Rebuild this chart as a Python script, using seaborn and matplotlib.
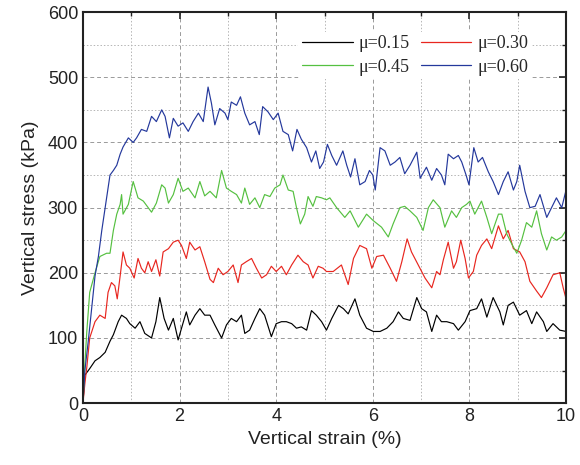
import numpy as np
import pandas as pd
import matplotlib
matplotlib.use("Agg")
import matplotlib.pyplot as plt
import seaborn as sns
from matplotlib.ticker import MultipleLocator

# ---- data ----
labels = ["μ=0.15", "μ=0.30", "μ=0.45", "μ=0.60"]
colors = ["#000000", "#e8261f", "#55c040", "#24389c"]

x015 = [0, 0.04, 0.14, 0.25, 0.35, 0.46, 0.56, 0.63, 0.73, 0.80, 0.90, 0.97, 1.08, 1.18, 1.28,
        1.42, 1.51, 1.59, 1.68, 1.77, 1.87, 1.97, 2.08, 2.14, 2.21, 2.32, 2.42, 2.52, 2.63, 2.73,
        2.87, 2.97, 3.07, 3.18, 3.28, 3.35, 3.45, 3.56, 3.66, 3.76, 3.90, 4.00, 4.11, 4.21, 4.32,
        4.42, 4.52, 4.63, 4.73, 4.83, 4.94, 5.04, 5.15, 5.29, 5.39, 5.49, 5.63, 5.73, 5.87, 6.01,
        6.15, 6.29, 6.42, 6.53, 6.63, 6.77, 6.91, 7.01, 7.11, 7.22, 7.32, 7.42, 7.53, 7.67, 7.77,
        7.91, 8.01, 8.15, 8.25, 8.36, 8.49, 8.63, 8.70, 8.80, 8.91, 9.04, 9.18, 9.29, 9.39, 9.53,
        9.60, 9.73, 9.87, 10.0]
y015 = [0, 43, 53, 65, 70, 78, 95, 105, 125, 135, 130, 122, 115, 125, 107,
        100, 125, 162, 130, 112, 130, 97, 125, 140, 120, 135, 145, 135, 135, 120,
        100, 120, 130, 125, 135, 107, 112, 130, 145, 135, 102, 122, 125, 125, 122,
        115, 117, 112, 142, 135, 125, 112, 130, 150, 145, 137, 160, 135, 115, 110,
        110, 115, 125, 140, 130, 127, 162, 145, 140, 110, 135, 125, 125, 122, 112,
        125, 142, 145, 160, 132, 162, 140, 120, 150, 155, 135, 142, 122, 140, 125,
        110, 122, 112, 110]

x030 = [0, 0.04, 0.08, 0.14, 0.25, 0.35, 0.46, 0.52, 0.59, 0.66, 0.71, 0.77, 0.83, 0.90, 0.97,
        1.06, 1.14, 1.21, 1.28, 1.35, 1.42, 1.51, 1.59, 1.66, 1.77, 1.87, 1.97, 2.04, 2.14, 2.21,
        2.32, 2.42, 2.52, 2.63, 2.70, 2.80, 2.90, 3.00, 3.11, 3.21, 3.28, 3.38, 3.49, 3.59, 3.70,
        3.80, 3.90, 4.00, 4.11, 4.21, 4.32, 4.45, 4.56, 4.66, 4.76, 4.87, 4.97, 5.04, 5.18, 5.35,
        5.49, 5.60, 5.73, 5.87, 5.98, 6.08, 6.22, 6.36, 6.49, 6.60, 6.71, 6.80, 6.94, 7.08, 7.22,
        7.32, 7.39, 7.46, 7.56, 7.67, 7.73, 7.82, 7.91, 7.98, 8.08, 8.15, 8.25, 8.36, 8.46, 8.60,
        8.70, 8.80, 8.91, 9.04, 9.15, 9.25, 9.39, 9.49, 9.60, 9.73, 9.87, 9.94, 10.0]
y030 = [0, 30, 55, 100, 125, 135, 130, 170, 185, 180, 160, 195, 232, 212, 207,
        192, 222, 207, 200, 217, 202, 220, 195, 232, 237, 247, 250, 242, 222, 247,
        235, 240, 217, 190, 185, 207, 197, 202, 212, 185, 212, 217, 222, 207, 192,
        197, 210, 202, 210, 197, 212, 227, 217, 212, 192, 210, 207, 202, 202, 212,
        182, 222, 242, 237, 207, 225, 227, 207, 187, 217, 252, 232, 212, 192, 177,
        202, 197, 220, 247, 207, 217, 250, 222, 192, 202, 227, 242, 252, 237, 272,
        252, 265, 237, 232, 217, 187, 172, 162, 177, 197, 200, 177, 160]

x045 = [0, 0.04, 0.08, 0.14, 0.25, 0.35, 0.49, 0.56, 0.63, 0.70, 0.77, 0.80, 0.83, 0.94, 1.04,
        1.14, 1.25, 1.35, 1.42, 1.52, 1.63, 1.70, 1.77, 1.87, 1.97, 2.07, 2.18, 2.32, 2.42, 2.52,
        2.63, 2.76, 2.87, 2.97, 3.07, 3.18, 3.28, 3.35, 3.45, 3.56, 3.66, 3.76, 3.87, 3.97, 4.08,
        4.14, 4.25, 4.35, 4.42, 4.50, 4.59, 4.66, 4.76, 4.83, 4.94, 5.04, 5.11, 5.25, 5.42, 5.53,
        5.70, 5.87, 6.01, 6.18, 6.32, 6.42, 6.56, 6.66, 6.77, 6.91, 7.04, 7.15, 7.25, 7.39, 7.49,
        7.63, 7.73, 7.84, 7.94, 8.01, 8.11, 8.25, 8.36, 8.46, 8.60, 8.67, 8.77, 8.87, 8.98, 9.08,
        9.18, 9.29, 9.39, 9.49, 9.60, 9.70, 9.80, 9.91, 10.0]
y045 = [0, 60, 110, 170, 200, 225, 230, 230, 265, 290, 305, 320, 290, 305, 340,
        315, 310, 300, 293, 307, 335, 330, 307, 320, 345, 325, 330, 315, 340, 318,
        325, 315, 357, 330, 325, 320, 307, 330, 305, 315, 300, 320, 317, 330, 335,
        350, 327, 325, 300, 275, 290, 317, 302, 317, 315, 312, 315, 300, 285, 295,
        270, 290, 280, 270, 255, 275, 300, 302, 295, 285, 265, 300, 312, 300, 270,
        295, 285, 300, 305, 310, 290, 310, 285, 260, 290, 290, 260, 245, 230, 250,
        277, 270, 295, 260, 235, 255, 250, 255, 265]

x060 = [0, 0.04, 0.11, 0.18, 0.25, 0.32, 0.39, 0.46, 0.56, 0.63, 0.70, 0.77, 0.83, 0.94, 1.04,
        1.11, 1.21, 1.32, 1.42, 1.52, 1.63, 1.70, 1.79, 1.87, 1.97, 2.07, 2.18, 2.28, 2.39, 2.49,
        2.59, 2.66, 2.73, 2.83, 2.94, 3.00, 3.07, 3.18, 3.26, 3.35, 3.45, 3.56, 3.65, 3.72, 3.83,
        3.94, 4.04, 4.14, 4.25, 4.34, 4.43, 4.52, 4.63, 4.73, 4.82, 4.90, 4.98, 5.06, 5.15, 5.25,
        5.38, 5.46, 5.54, 5.63, 5.73, 5.84, 5.93, 6.00, 6.05, 6.15, 6.25, 6.36, 6.46, 6.56, 6.66,
        6.77, 6.91, 6.98, 7.11, 7.22, 7.32, 7.42, 7.49, 7.56, 7.67, 7.77, 7.84, 7.93, 7.99, 8.09,
        8.18, 8.27, 8.39, 8.49, 8.60, 8.70, 8.80, 8.91, 8.98, 9.04, 9.15, 9.25, 9.36, 9.46, 9.60,
        9.70, 9.80, 9.91, 10.0]
y060 = [0, 50, 95, 145, 195, 225, 265, 300, 350, 357, 365, 382, 393, 407, 400,
        407, 420, 417, 440, 432, 450, 440, 407, 437, 425, 430, 417, 432, 445, 432,
        485, 460, 427, 452, 445, 435, 462, 457, 470, 445, 427, 432, 412, 455, 447,
        435, 445, 417, 412, 387, 420, 405, 392, 370, 387, 360, 370, 397, 380, 365,
        387, 365, 347, 375, 335, 340, 357, 350, 327, 392, 387, 365, 370, 377, 352,
        365, 385, 345, 362, 342, 360, 350, 335, 382, 375, 380, 370, 350, 335, 392,
        370, 377, 355, 340, 320, 340, 355, 327, 340, 365, 325, 300, 302, 320, 285,
        300, 315, 300, 327]

frames = []
for lab, xs, ys in zip(labels, [x015, x030, x045, x060], [y015, y030, y045, y060]):
    frames.append(pd.DataFrame({"strain": xs, "stress": ys, "series": lab}))
df = pd.concat(frames, ignore_index=True)

# ---- plot ----
sns.set_theme(style="white")
plt.rcParams["font.family"] = ["Liberation Sans", "DejaVu Sans"]

fig = plt.figure(figsize=(5.8, 4.65), dpi=100)
ax = fig.add_axes([0.143, 0.133, 0.833, 0.841])

sns.lineplot(data=df, x="strain", y="stress", hue="series", palette=dict(zip(labels, colors)),
             hue_order=labels, sort=False, estimator=None, linewidth=0.85, ax=ax, legend=False)

ax.set_xlim(0, 10)
ax.set_ylim(0, 600)
ax.xaxis.set_major_locator(MultipleLocator(2))
ax.xaxis.set_minor_locator(MultipleLocator(1))
ax.yaxis.set_major_locator(MultipleLocator(100))
ax.yaxis.set_minor_locator(MultipleLocator(50))
ax.grid(which="major", color="#9a9a9a", linestyle=(0, (4, 3)), linewidth=0.7)
ax.grid(which="minor", color="#b5b5b5", linestyle=(0, (1.5, 2)), linewidth=0.7)
ax.set_axisbelow(True)
ax.tick_params(which="both", direction="in", top=True, right=True, labelsize=13, colors="#222222")
ax.tick_params(which="major", length=5, width=1.2)
ax.tick_params(which="minor", length=3, width=1.0)
for s in ax.spines.values():
    s.set_linewidth(1.5)
    s.set_color("#222222")

ax.set_xlabel("Vertical strain (%)", fontsize=14, color="#222222", labelpad=4)
ax.set_ylabel("Vertical stress (kPa)", fontsize=14, color="#222222", labelpad=6)

# legend: row-wise order (0.15, 0.30 / 0.45, 0.60) with matplotlib's column filling
order = [0, 2, 1, 3]
handles = [plt.Line2D([], [], color=colors[i], linewidth=0.9) for i in order]
leg_labels = [labels[i] for i in order]
leg = ax.legend(handles, leg_labels, ncol=2, loc="upper right", bbox_to_anchor=(0.93, 0.95),
                frameon=True, framealpha=1, facecolor="white", edgecolor="none",
                prop={"family": "Liberation Serif", "size": 13}, handlelength=2.8,
                handletextpad=0.35, columnspacing=0.6, labelspacing=0.35, borderpad=0.2,
                borderaxespad=0)

fig.savefig("out.png", dpi=100)
